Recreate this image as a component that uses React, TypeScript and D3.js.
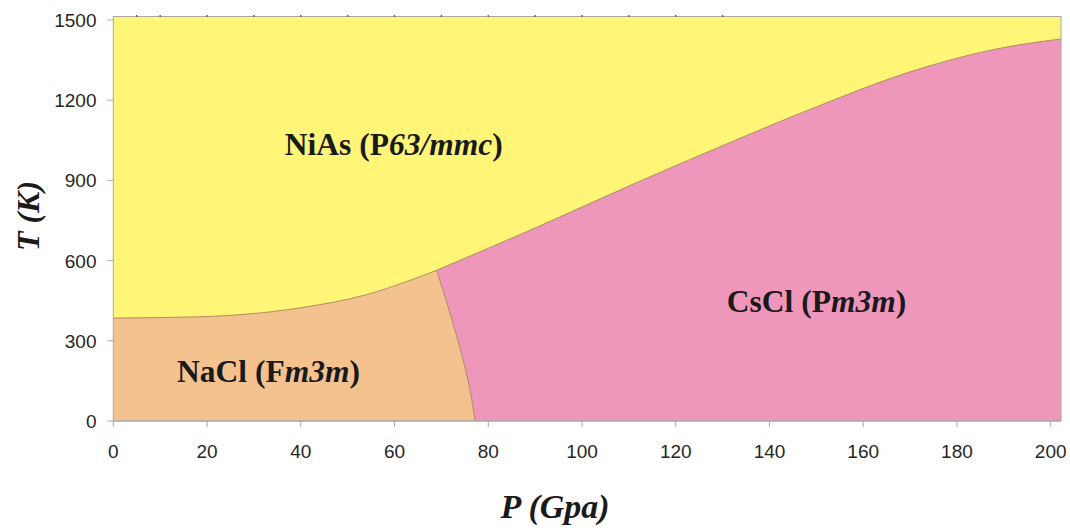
import React from "react";
import * as d3 from "d3";

// Phase boundaries (P in GPa, T in K)
const naclNiasP = [0, 18.5, 39.8, 54.1, 63.3, 69];
const naclNiasT = [385, 390, 423, 473, 526, 564];

const naclCsclP = [69, 71.8, 74.4, 76.1, 77.2];
const naclCsclT = [564, 405, 245, 118, 0];

const niasCsclP = [69, 90, 110, 130, 150, 170, 190, 202.2];
const niasCsclT = [564, 722, 879, 1030, 1175, 1306, 1397, 1429];

const xTicks = [0, 20, 40, 60, 80, 100, 120, 140, 160, 180, 200];
const yTicks = [0, 300, 600, 900, 1200, 1500];
const topMarks = [5, 10, 20, 30, 40, 50, 60, 70, 80, 90, 100, 110, 120, 130];

const pMax = 202.2;
const tMax = 1513;

const W = 1070;
const H = 528;

export default function App() {
  const x = d3.scaleLinear().domain([0, 200]).range([113.3, 1050.7]);
  const y = d3.scaleLinear().domain([0, 1500]).range([421, 20]);

  const line = d3
    .line<[number, number]>()
    .x((d) => x(d[0]))
    .y((d) => y(d[1]))
    .curve(d3.curveMonotoneX);

  const lineV = d3
    .line<[number, number]>()
    .x((d) => x(d[0]))
    .y((d) => y(d[1]))
    .curve(d3.curveMonotoneY);

  const zip = (a: number[], b: number[]) => a.map((v, i) => [v, b[i]] as [number, number]);
  const b1 = zip(naclNiasP, naclNiasT);
  const b2 = zip(naclCsclP, naclCsclT);
  const b3 = zip(niasCsclP, niasCsclT);

  const asL = (s: string) => "L" + s.slice(1);

  const naclPath =
    `M${x(0)},${y(0)}L${x(0)},${y(b1[0][1])}` +
    asL(line(b1) as string) +
    asL(lineV(b2) as string) +
    "Z";

  const csclPath =
    (line(b3) as string) +
    `L${x(pMax)},${y(0)}L${x(b3[0][0])},${y(0)}Z`;

  const serif = "'Liberation Serif','Times New Roman',serif";
  const sans = "'Liberation Sans',Arial,sans-serif";

  const labelStyle = {
    fontFamily: serif,
    fontWeight: 700,
    fontSize: 31.5,
    fill: "#1a1a1a",
  } as const;

  return (
    <svg
      width={W}
      height={H}
      style={{ position: "absolute", left: 0, top: 0, background: "#fff" }}
    >
      <defs>
        <clipPath id="plotclip">
          <rect x={x(0)} y={y(tMax)} width={x(pMax) - x(0)} height={y(0) - y(tMax)} />
        </clipPath>
      </defs>

      {/* background NiAs region */}
      <rect
        x={x(0)}
        y={y(tMax)}
        width={x(pMax) - x(0)}
        height={y(0) - y(tMax)}
        fill="#fff678"
      />
      <g clipPath="url(#plotclip)">
        <path d={csclPath} fill="#ef96bb" />
        <path d={naclPath} fill="#f3c28f" />
        <path d={line(b1) as string} fill="none" stroke="#a8845c" strokeWidth={0.9} />
        <path d={lineV(b2) as string} fill="none" stroke="#a8845c" strokeWidth={0.9} />
        <path d={line(b3) as string} fill="none" stroke="#a8845c" strokeWidth={0.9} />
      </g>
      <rect
        x={x(0)}
        y={y(tMax)}
        width={x(pMax) - x(0)}
        height={y(0) - y(tMax)}
        fill="none"
        stroke="#a8a8a0"
        strokeWidth={1}
      />

      {/* small marks on top edge */}
      {topMarks.map((p) => (
        <line
          key={"tm" + p}
          x1={x(p)}
          x2={x(p)}
          y1={y(tMax) - 1.5}
          y2={y(tMax) + 0.5}
          stroke="#7a5a40"
          strokeWidth={1.5}
        />
      ))}

      {/* x axis */}
      <line x1={x(0)} x2={x(pMax)} y1={y(0)} y2={y(0)} stroke="#a8a8a8" strokeWidth={1.2} />
      {xTicks.map((t) => (
        <g key={"xt" + t}>
          <line x1={x(t)} x2={x(t)} y1={y(0)} y2={y(0) + 6} stroke="#a8a8a8" strokeWidth={1} />
          <text
            x={x(t)}
            y={458}
            textAnchor="middle"
            fontFamily={sans}
            fontSize={19}
            fill="#262626"
          >
            {t}
          </text>
        </g>
      ))}

      {/* y axis */}
      {yTicks.map((t) => (
        <g key={"yt" + t}>
          <line x1={x(0) - 6} x2={x(0)} y1={y(t)} y2={y(t)} stroke="#a8a8a8" strokeWidth={1} />
          <text
            x={96.5}
            y={y(t) + 7}
            textAnchor="end"
            fontFamily={sans}
            fontSize={19}
            fill="#262626"
          >
            {t}
          </text>
        </g>
      ))}

      {/* axis titles */}
      <text
        x={555}
        y={518}
        textAnchor="middle"
        fontFamily={serif}
        fontWeight={700}
        fontStyle="italic"
        fontSize={34}
        fill="#1a1a1a"
      >
        P (Gpa)
      </text>
      <text
        transform="translate(39,216) rotate(-90)"
        textAnchor="middle"
        fontFamily={serif}
        fontWeight={700}
        fontStyle="italic"
        fontSize={32}
        fill="#1a1a1a"
      >
        T (K)
      </text>

      {/* region labels */}
      <text x={x(36.6)} y={y(995)} {...labelStyle}>
        NiAs (P<tspan fontStyle="italic">63/mmc</tspan>)
      </text>
      <text x={x(13.6)} y={y(147)} {...labelStyle}>
        NaCl (F<tspan fontStyle="italic">m3m</tspan>)
      </text>
      <text x={x(130.9)} y={y(408)} {...labelStyle}>
        CsCl (P<tspan fontStyle="italic">m3m</tspan>)
      </text>
    </svg>
  );
}
